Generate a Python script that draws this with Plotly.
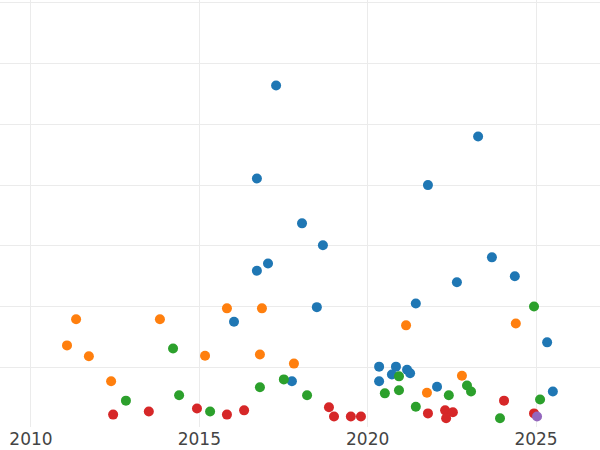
import plotly.graph_objects as go

COLORS = ["#1f77b4", "#ff7f0e", "#2ca02c", "#d62728", "#9467bd"]

blue_x = [2017.28, 2016.71, 2018.05, 2018.67, 2017.04, 2016.71, 2016.03, 2018.49,
          2021.79, 2023.28, 2023.69, 2022.65, 2024.37, 2021.43, 2025.33, 2020.34,
          2020.84, 2020.34, 2020.72, 2021.17, 2021.26, 2017.75, 2022.06, 2025.50]
blue_y = [56.4, 41.1, 33.7, 30.1, 27.1, 25.9, 17.5, 19.9,
          40.0, 48.0, 28.1, 24.0, 25.0, 20.5, 14.1, 10.1,
          10.1, 7.7, 8.8, 9.6, 9.0, 7.7, 6.8, 6.0]

orange_x = [2011.07, 2011.34, 2011.72, 2012.38, 2013.83, 2015.17, 2015.82,
            2016.86, 2016.80, 2017.81, 2021.14, 2021.76, 2022.80, 2024.40]
orange_y = [13.6, 17.9, 11.8, 7.7, 17.9, 11.9, 19.7,
            19.7, 12.1, 10.6, 16.9, 5.8, 8.6, 17.2]

green_x = [2012.82, 2014.22, 2014.40, 2015.32, 2016.80, 2017.51, 2018.20, 2020.51,
           2020.93, 2020.93, 2021.43, 2022.41, 2022.95, 2023.07, 2023.93, 2024.94,
           2025.12]
green_y = [4.5, 13.1, 5.4, 2.7, 6.7, 8.0, 5.4, 5.7,
           6.2, 8.5, 3.5, 5.4, 7.0, 6.0, 1.6, 20.0,
           4.7]

red_x = [2012.44, 2013.50, 2014.93, 2015.82, 2016.33, 2018.85, 2019.00, 2019.50,
         2019.80, 2021.79, 2022.30, 2022.53, 2022.33, 2024.05, 2024.94]
red_y = [2.2, 2.7, 3.2, 2.2, 2.9, 3.4, 1.9, 1.9,
         1.9, 2.4, 2.9, 2.6, 1.6, 4.5, 2.4]

purple_x = [2025.03]
purple_y = [1.9]

series = [
    (blue_x, blue_y),
    (orange_x, orange_y),
    (green_x, green_y),
    (red_x, red_y),
    (purple_x, purple_y),
]

fig = go.Figure()
for (xs, ys), color in zip(series, COLORS):
    fig.add_trace(
        go.Scatter(
            x=xs,
            y=ys,
            mode="markers",
            marker=dict(color=color, size=10, line=dict(width=0)),
            showlegend=False,
        )
    )

fig.update_layout(
    width=600,
    height=450,
    margin=dict(l=0, r=0, t=0, b=23, autoexpand=False),
    plot_bgcolor="white",
    paper_bgcolor="white",
    font=dict(family="DejaVu Sans", size=17, color="#444"),
    xaxis=dict(
        range=[2009.08, 2026.90],
        tickvals=[2010, 2015, 2020, 2025],
        ticktext=["2010", "2015", "2020", "2025"],
        showgrid=True,
        gridcolor="#ebebeb",
        gridwidth=1,
        zeroline=False,
        showline=False,
        ticks="",
    ),
    yaxis=dict(
        range=[0.16, 70.49],
        dtick=10,
        showticklabels=False,
        showgrid=True,
        gridcolor="#ebebeb",
        gridwidth=1,
        zeroline=False,
        showline=False,
        ticks="",
    ),
)

# drop the browser's default page margin so the figure sits at the corner
fig.write_html(
    "out.html",
    config={"displayModeBar": False},
    post_script="document.body.style.margin = '0px';",
)
